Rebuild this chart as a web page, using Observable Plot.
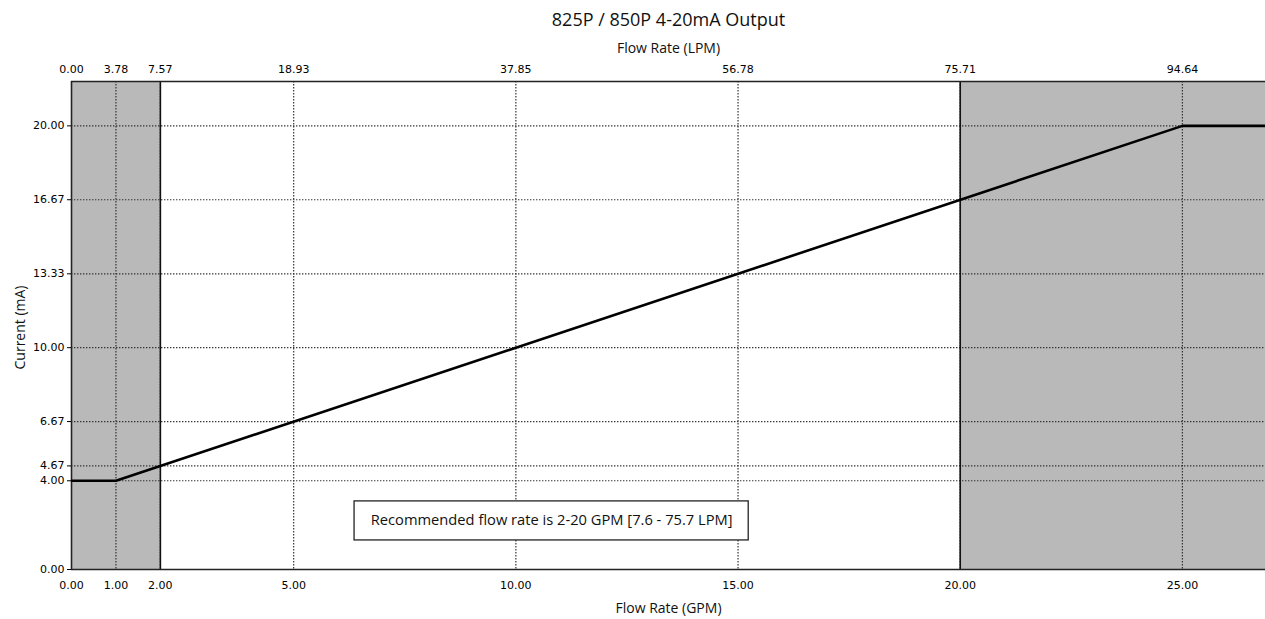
<!DOCTYPE html>
<html>
<head>
<meta charset="utf-8">
<script src="https://cdn.jsdelivr.net/npm/d3@7"></script>
<script src="https://cdn.jsdelivr.net/npm/@observablehq/plot@0.6"></script>
<style>
  html, body { margin: 0; padding: 0; background: #fff; overflow: hidden; }
  #chart svg { display: block; }
</style>
</head>
<body>
<div id="chart"></div>
<script>
// ---- data ----
const chartTitle = "825P / 850P 4-20mA Output";
const xLabelBottom = "Flow Rate (GPM)";
const xLabelTop = "Flow Rate (LPM)";
const yLabel = "Current (mA)";

const gpmTicks = [0, 1, 2, 5, 10, 15, 20, 25];
const lpmLabels = ["0.00", "3.78", "7.57", "18.93", "37.85", "56.78", "75.71", "94.64"];
const currentTicks = [0, 4, 4.67, 6.67, 10, 13.33, 16.67, 20];

const flowGPM = [0, 1, 25, 27];
const currentMA = [4, 4, 20, 20];

const shadeStart = [0, 20];
const shadeEnd = [2, 27];

const xDomain = [0, 26.87];
const yDomain = [0, 22];

const noteText = "Recommended flow rate is 2-20 GPM [7.6 - 75.7 LPM]";
const noteX = [6.37, 15.24];
const noteY = [1.31, 3.07];

// ---- derived tables ----
const lineData = flowGPM.map((x, i) => ({x, y: currentMA[i]}));
const shadeData = shadeStart.map((x1, i) => ({x1, x2: shadeEnd[i]}));
const lpmMap = new Map(gpmTicks.map((g, i) => [g, lpmLabels[i]]));
const noteBox = [{x1: noteX[0], x2: noteX[1], y1: noteY[0], y2: noteY[1]}];
const noteCenter = [{x: (noteX[0] + noteX[1]) / 2, y: (noteY[0] + noteY[1]) / 2}];

const labelFont = "'Open Sans', 'Noto Sans', sans-serif";
const tickFont = "'DejaVu Sans', sans-serif";
const dotted = {stroke: "#333", strokeWidth: 1.2, strokeDasharray: "1.4,1.6"};

const chart = Plot.plot({
  width: 1265,
  height: 619,
  marginTop: 81,
  marginBottom: 50,
  marginLeft: 71,
  marginRight: 0,
  style: {fontFamily: tickFont, fontSize: "11px", color: "#000", background: "#fff"},
  x: {domain: xDomain},
  y: {domain: yDomain},
  marks: [
    Plot.rect(shadeData, {x1: "x1", x2: "x2", y1: yDomain[0], y2: yDomain[1], fill: "#b9b9b9", clip: true}),
    Plot.ruleX(gpmTicks.filter(d => d > 0), {...dotted}),
    Plot.ruleY(currentTicks.filter(d => d > 0), {...dotted}),
    Plot.ruleX([shadeEnd[0], shadeStart[1]], {stroke: "#111", strokeWidth: 1.6}),
    Plot.ruleX([xDomain[0]], {stroke: "#222", strokeWidth: 1.6}),
    Plot.ruleY(yDomain, {stroke: "#222", strokeWidth: 1.6}),
    Plot.line(lineData, {x: "x", y: "y", stroke: "#000", strokeWidth: 2.6, clip: true}),
    Plot.rect(noteBox, {x1: "x1", x2: "x2", y1: "y1", y2: "y2", fill: "#fff", stroke: "#222", strokeWidth: 1.3}),
    Plot.text(noteCenter, {x: "x", y: "y", text: () => noteText, fontFamily: labelFont, fontSize: 14.7, fill: "#111", dy: -1}),
    Plot.axisX(gpmTicks, {anchor: "bottom", tickSize: 0, tickPadding: 12, tickFormat: d3.format(".2f"), label: null, fontSize: 11, fontFamily: tickFont}),
    Plot.axisX(gpmTicks, {anchor: "top", tickSize: 0, tickPadding: 9, tickFormat: d => lpmMap.get(d), label: null, fontSize: 11, fontFamily: tickFont}),
    Plot.axisY(currentTicks, {anchor: "left", tickSize: 4, tickPadding: 3, tickFormat: d3.format(".2f"), label: null, fontSize: 11, fontFamily: tickFont}),
    Plot.text([chartTitle], {frameAnchor: "top", dy: -56, lineAnchor: "bottom", fontFamily: labelFont, fontSize: 18, fill: "#111"}),
    Plot.text([xLabelTop], {frameAnchor: "top", dy: -29, lineAnchor: "bottom", fontFamily: labelFont, fontSize: 14, fill: "#111"}),
    Plot.text([xLabelBottom], {frameAnchor: "bottom", dy: 43, lineAnchor: "bottom", fontFamily: labelFont, fontSize: 14, fill: "#111"}),
    Plot.text([yLabel], {frameAnchor: "left", dx: -51, dy: 2, rotate: -90, textAnchor: "middle", fontFamily: labelFont, fontSize: 14, fill: "#111"})
  ]
});
document.getElementById("chart").appendChild(chart);
</script>
</body>
</html>
